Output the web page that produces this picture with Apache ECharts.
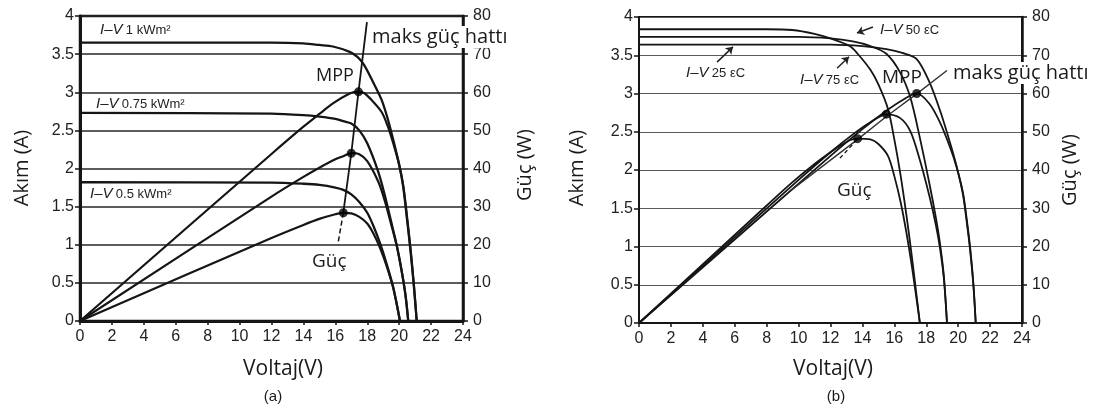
<!DOCTYPE html>
<html>
<head>
<meta charset="utf-8">
<script src="https://cdn.jsdelivr.net/npm/echarts@6/dist/echarts.min.js"></script>
<style>
  html, body { margin: 0; padding: 0; background: #fff; }
  #chart { width: 1097px; height: 413px; }
</style>
</head>
<body>
<div id="chart"></div>
<script>
// Axis ticks
const voltTicks = [0, 2, 4, 6, 8, 10, 12, 14, 16, 18, 20, 22, 24];
const ampTicks = [0, 0.5, 1, 1.5, 2, 2.5, 3, 3.5, 4];
const wattTicks = [0, 10, 20, 30, 40, 50, 60, 70, 80];

// (a) irradiance: 1 kW/m2
const voltsA1000 = [0, 12, 14, 15, 15.85, 16.9, 17.4, 17.8, 18.3, 18.9, 19.3, 19.6, 20.0, 20.26, 20.5, 20.72, 20.92, 21.1];
const ampsA1000  = [3.65, 3.65, 3.64, 3.62, 3.6, 3.53, 3.46, 3.36, 3.16, 2.9, 2.64, 2.4, 2.05, 1.75, 1.32, 0.9, 0.46, 0];
const wattsA1000 = [0, 43.8, 50.96, 54.3, 57.06, 59.66, 60.2, 59.8, 57.83, 54.81, 50.95, 47.04, 41.0, 35.46, 27.06, 18.65, 9.62, 0];

// (a) irradiance: 0.75 kW/m2
const voltsA750 = [0, 12, 14, 15, 16, 16.5, 17, 17.5, 18, 18.7, 19.1, 19.5, 19.84, 20.15, 20.4, 20.57];
const ampsA750  = [2.73, 2.72, 2.7, 2.68, 2.65, 2.62, 2.59, 2.5, 2.33, 1.95, 1.65, 1.3, 1.0, 0.66, 0.33, 0];
const wattsA750 = [0, 32.64, 37.8, 40.2, 42.4, 43.23, 44.03, 43.75, 41.94, 36.47, 31.52, 25.35, 19.84, 13.3, 6.73, 0];

// (a) irradiance: 0.5 kW/m2
const voltsA500 = [0, 12, 14, 15, 16, 16.5, 17, 17.5, 18, 18.4, 18.8, 19.2, 19.63, 20.05];
const ampsA500  = [1.82, 1.815, 1.8, 1.785, 1.75, 1.72, 1.66, 1.56, 1.42, 1.24, 1.02, 0.76, 0.44, 0];
const wattsA500 = [0, 21.78, 25.2, 26.78, 28.0, 28.38, 28.22, 27.3, 25.56, 22.82, 19.18, 14.59, 8.64, 0];

// (a) maximum power points and the max power line
const mppVoltsA = [16.5, 17.0, 17.45];
const mppWattsA = [28.4, 44.0, 60.1];
const maxLineVoltsA = [16.5, 17.0, 17.45, 17.98];
const maxLineWattsA = [28.4, 44.0, 60.1, 78.4];
const powerPointerVoltsA = [16.5, 16.17];
const powerPointerWattsA = [28.4, 20.4];

// (b) cell temperature: 25 C
const voltsB25 = [0, 12, 14, 15.5, 16.5, 17.4, 18.2, 18.86, 19.5, 19.9, 20.3, 20.55, 20.75, 20.95, 21.1];
const ampsB25  = [3.64, 3.64, 3.62, 3.58, 3.53, 3.45, 3.15, 2.78, 2.35, 2.05, 1.68, 1.3, 0.95, 0.5, 0];
const wattsB25 = [0, 43.68, 50.68, 55.49, 58.25, 60.03, 57.33, 52.43, 45.83, 40.8, 34.1, 26.7, 19.7, 10.5, 0];

// (b) cell temperature: 50 C
const voltsB50 = [0, 10, 12, 13.4, 14.5, 15.5, 16.35, 17, 17.6, 18.2, 18.6, 18.86, 19.1, 19.3];
const ampsB50  = [3.74, 3.74, 3.72, 3.68, 3.62, 3.52, 3.28, 2.95, 2.42, 1.82, 1.38, 1.04, 0.62, 0];
const wattsB50 = [0, 37.4, 44.64, 49.31, 52.49, 54.56, 53.63, 50.15, 42.59, 33.12, 25.67, 19.61, 11.84, 0];

// (b) cell temperature: 75 C
const voltsB75 = [0, 8, 9.6, 11, 12, 13.2, 13.7, 14.5, 15, 15.6, 16, 16.4, 16.75, 17.05, 17.3, 17.6];
const ampsB75  = [3.84, 3.84, 3.83, 3.78, 3.72, 3.62, 3.52, 3.31, 3.12, 2.8, 2.4, 1.92, 1.42, 0.95, 0.52, 0];
const wattsB75 = [0, 30.72, 36.77, 41.58, 44.64, 47.78, 48.22, 48.0, 46.8, 43.68, 38.4, 31.49, 23.79, 16.2, 9.0, 0];

// (b) maximum power points and the max power line
const mppVoltsB = [13.7, 15.5, 17.4];
const mppWattsB = [48.2, 54.6, 60.0];
const maxLineVoltsB = [9.5, 13.7, 15.5, 17.4, 19.3];
const maxLineWattsB = [34.6, 48.0, 54.0, 59.9, 66.0];
const powerPointerVoltsB = [12.59, 13.6];
const powerPointerWattsB = [43.1, 47.6];

// (b) label arrows, in current units
const arrow25Volts = [4.89, 5.89], arrow25Amps = [3.41, 3.61];
const arrow75Volts = [12.41, 13.16], arrow75Amps = [3.33, 3.48];
const arrow50Volts = [14.66, 13.66], arrow50Amps = [3.87, 3.79];

const zip = (xs, ys) => xs.map((x, i) => [x, ys[i]]);

const tickFont = 'Liberation Sans, Arial, sans-serif';
const textFont = 'Open Sans, Noto Sans, sans-serif';
const ink = '#151515';

function axesFor(gridIndex, heavy) {
  const axisW = heavy ? 3 : 2;
  const gridColor = heavy ? '#262626' : '#5a5a5a';
  const gridW = heavy ? 1.6 : 1.2;
  const x = {
    type: 'value', gridIndex,
    min: voltTicks[0], max: voltTicks[voltTicks.length - 1], interval: voltTicks[1] - voltTicks[0],
    axisLine: { show: true, onZero: false, lineStyle: { color: ink, width: axisW } },
    axisTick: { show: true, length: 4, lineStyle: { color: ink, width: 1.5 } },
    axisLabel: { color: '#222', fontSize: 16, fontFamily: tickFont, margin: 8 },
    splitLine: { show: false }
  };
  const yLeft = {
    type: 'value', gridIndex, position: 'left',
    min: ampTicks[0], max: ampTicks[ampTicks.length - 1], interval: ampTicks[1] - ampTicks[0],
    axisLine: { show: true, onZero: false, lineStyle: { color: ink, width: axisW } },
    axisTick: { show: true, length: 5, lineStyle: { color: ink, width: 1.5 } },
    axisLabel: { color: '#222', fontSize: 16, fontFamily: tickFont, margin: 6 },
    splitLine: { show: true, lineStyle: { color: gridColor, width: gridW } }
  };
  const yRight = {
    type: 'value', gridIndex, position: 'right',
    min: wattTicks[0], max: wattTicks[wattTicks.length - 1], interval: wattTicks[1] - wattTicks[0],
    axisLine: { show: true, onZero: false, lineStyle: { color: ink, width: 2.5 } },
    axisTick: { show: true, length: 5, lineStyle: { color: ink, width: 1.5 } },
    axisLabel: { color: '#222', fontSize: 16, fontFamily: tickFont, margin: 10 },
    splitLine: { show: false }
  };
  return { x, yLeft, yRight };
}

const axA = axesFor(0, true);
const axB = axesFor(1, false);

function curve(xi, yi, data, width, extra) {
  return Object.assign({
    type: 'line', xAxisIndex: xi, yAxisIndex: yi, data,
    smooth: 0.3, showSymbol: false, symbol: 'none',
    lineStyle: { color: ink, width }, silent: true, z: 3
  }, extra || {});
}

function dots(xi, yi, data) {
  return {
    type: 'scatter', xAxisIndex: xi, yAxisIndex: yi, data,
    symbol: 'circle', symbolSize: 9, itemStyle: { color: '#000' }, z: 5, silent: true
  };
}

function arrows(xi, yi, pairs) {
  return {
    type: 'lines', coordinateSystem: 'cartesian2d', xAxisIndex: xi, yAxisIndex: yi,
    data: pairs.map(p => ({ coords: p })),
    symbol: ['none', 'arrow'], symbolSize: 7,
    lineStyle: { color: '#222', width: 1.5, opacity: 1 }, z: 4, silent: true
  };
}

const series = [
  // (a) current curves (left axis)
  curve(0, 0, zip(voltsA1000, ampsA1000), 2.3),
  curve(0, 0, zip(voltsA750, ampsA750), 2.3),
  curve(0, 0, zip(voltsA500, ampsA500), 2.3),
  // (a) power curves (right axis)
  curve(0, 1, zip(voltsA1000, wattsA1000), 2.2),
  curve(0, 1, zip(voltsA750, wattsA750), 2.2),
  curve(0, 1, zip(voltsA500, wattsA500), 2.2),
  curve(0, 1, zip(maxLineVoltsA, maxLineWattsA), 1.8, { smooth: false }),
  curve(0, 1, zip(powerPointerVoltsA, powerPointerWattsA), 1.5, { smooth: false, lineStyle: { color: ink, width: 1.5, type: [5, 3] } }),
  dots(0, 1, zip(mppVoltsA, mppWattsA)),

  // (b) current curves (left axis)
  curve(1, 2, zip(voltsB25, ampsB25), 1.8),
  curve(1, 2, zip(voltsB50, ampsB50), 1.8),
  curve(1, 2, zip(voltsB75, ampsB75), 1.8),
  // (b) power curves (right axis)
  curve(1, 3, zip(voltsB25, wattsB25), 1.8),
  curve(1, 3, zip(voltsB50, wattsB50), 1.8),
  curve(1, 3, zip(voltsB75, wattsB75), 1.8),
  curve(1, 3, zip(maxLineVoltsB, maxLineWattsB), 1.4, { smooth: false, lineStyle: { color: '#333', width: 1.4 } }),
  curve(1, 3, zip(powerPointerVoltsB, powerPointerWattsB), 1.3, { smooth: false, lineStyle: { color: ink, width: 1.3, type: [4, 3] } }),
  dots(1, 3, zip(mppVoltsB, mppWattsB)),
  arrows(1, 2, [
    zip(arrow25Volts, arrow25Amps),
    zip(arrow75Volts, arrow75Amps),
    zip(arrow50Volts, arrow50Amps)
  ])
];

function label(x, y, text, size, opts) {
  return Object.assign({
    type: 'text', x, y, silent: true, z: 10,
    style: Object.assign({ text, fontSize: size, fontFamily: textFont, fill: '#1a1a1a', align: 'left', verticalAlign: 'middle' }, (opts && opts.style) || {})
  }, (opts && opts.el) || {});
}

function ivLabel(x, y, rest) {
  return {
    type: 'text', x, y, silent: true, z: 10,
    style: {
      text: '{i|I–V} {n|' + rest + '}',
      verticalAlign: 'middle', align: 'left',
      rich: {
        i: { fontSize: 15, fontStyle: 'italic', fontFamily: tickFont, fill: '#222' },
        n: { fontSize: 13, fontFamily: tickFont, fill: '#222' }
      }
    }
  };
}

const boxed = { backgroundColor: '#ffffff', padding: [1, 2] };

const graphic = [
  // panel (a)
  label(22, 168, 'Akım (A)', 20, { style: { align: 'center' }, el: { rotation: Math.PI / 2 } }),
  label(525, 165, 'Güç (W)', 20, { style: { align: 'center' }, el: { rotation: Math.PI / 2 } }),
  label(283, 369, 'Voltaj(V)', 21, { style: { align: 'center' } }),
  label(273, 397, '(a)', 15, { style: { align: 'center', fontFamily: tickFont } }),
  ivLabel(100, 30, '1 kWm²'),
  ivLabel(96, 104, '0.75 kWm²'),
  ivLabel(90, 194, '0.5 kWm²'),
  label(370, 37, 'maks güç hattı', 20, { style: boxed }),
  label(316, 76, 'MPP', 18),
  label(312, 262, 'Güç', 19),
  // panel (b)
  label(577, 168, 'Akım (A)', 20, { style: { align: 'center' }, el: { rotation: Math.PI / 2 } }),
  label(1070, 170, 'Güç (W)', 20, { style: { align: 'center' }, el: { rotation: Math.PI / 2 } }),
  label(833, 369, 'Voltaj(V)', 21, { style: { align: 'center' } }),
  label(836, 397, '(b)', 15, { style: { align: 'center', fontFamily: tickFont } }),
  ivLabel(686, 73, '25 εC'),
  ivLabel(800, 80, '75 εC'),
  ivLabel(880, 30, '50 εC'),
  label(882, 78, 'MPP', 19),
  label(951, 73, 'maks güç hattı', 20, { style: boxed }),
  label(837, 191, 'Güç', 19)
];

const chart = echarts.init(document.getElementById('chart'), null, { renderer: 'canvas' });
chart.setOption({
  animation: false,
  backgroundColor: '#ffffff',
  grid: [
    { left: 80, top: 16, width: 383, height: 305, show: true, borderColor: ink, borderWidth: 2.5, backgroundColor: 'transparent', outerBoundsMode: 'none', containLabel: false },
    { left: 639, top: 17, width: 383, height: 306, show: true, borderColor: ink, borderWidth: 2, backgroundColor: 'transparent', outerBoundsMode: 'none', containLabel: false }
  ],
  xAxis: [axA.x, axB.x],
  yAxis: [axA.yLeft, axA.yRight, axB.yLeft, axB.yRight],
  series,
  graphic
});
</script>
</body>
</html>
